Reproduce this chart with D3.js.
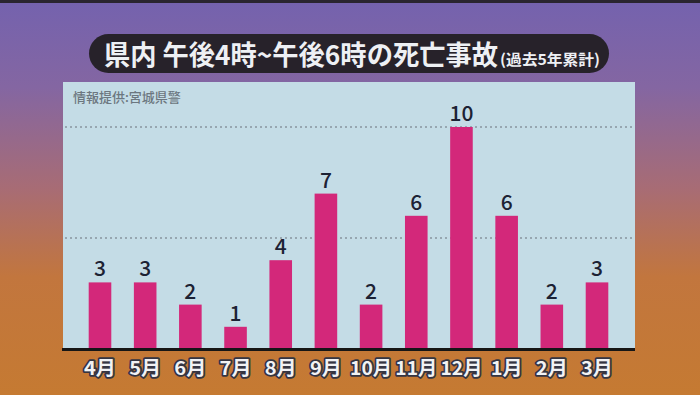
<!DOCTYPE html>
<html>
<head>
<meta charset="utf-8">
<script src="https://cdn.jsdelivr.net/npm/d3@7"></script>
<style>
  body { margin: 0; padding: 0; overflow: hidden; }
  svg { display: block; }
</style>
</head>
<body>
<div id="my_dataviz"></div>
<script>
// data
var months = ["4月", "5月", "6月", "7月", "8月", "9月", "10月", "11月", "12月", "1月", "2月", "3月"];
var deaths = [3, 3, 2, 1, 4, 7, 2, 6, 10, 6, 2, 3];
var gridValues = [5, 10];

var W = 700, H = 395;
var font = "'Noto Sans CJK JP', 'Noto Sans', sans-serif";

var svg = d3.select("#my_dataviz")
  .append("svg")
    .attr("width", W)
    .attr("height", H);

// background gradient purple -> orange
var defs = svg.append("defs");
var grad = defs.append("linearGradient")
    .attr("id", "bg")
    .attr("x1", 0).attr("y1", 0).attr("x2", 0).attr("y2", 1);
[["0%", "#7462ae"], ["22%", "#8466a2"], ["48%", "#a86c74"], ["70%", "#c2763e"], ["100%", "#c57a32"]]
  .forEach(function(s) { grad.append("stop").attr("offset", s[0]).attr("stop-color", s[1]); });

svg.append("rect").attr("width", W).attr("height", H).attr("fill", "url(#bg)");
svg.append("rect").attr("width", W).attr("height", 3).attr("fill", "#2a2530");

// chart panel
var panel = {left: 63, right: 635, top: 82, bottom: 349};
svg.append("rect")
  .attr("x", panel.left).attr("y", panel.top)
  .attr("width", panel.right - panel.left)
  .attr("height", panel.bottom - panel.top)
  .attr("fill", "#c4dce6");

// scales
var x = d3.scaleBand()
  .domain(months)
  .range([77.4, 619.6])
  .paddingInner(0.5)
  .paddingOuter(0.25);

var y = d3.scaleLinear()
  .domain([0, 10])
  .range([panel.bottom, 127]);

// dotted gridlines
svg.append("g")
  .selectAll("line")
  .data(gridValues)
  .enter().append("line")
    .attr("x1", panel.left + 2).attr("x2", panel.right - 2)
    .attr("y1", function(d) { return y(d); })
    .attr("y2", function(d) { return y(d); })
    .attr("stroke", "#97a6b0")
    .attr("stroke-width", 2)
    .attr("stroke-dasharray", "2,3");

// source note
svg.append("text")
  .attr("x", 73).attr("y", 102)
  .attr("font-family", font)
  .attr("font-size", 13)
  .attr("font-weight", 500)
  .attr("fill", "#6c7780")
  .text("情報提供:宮城県警");

// bars
svg.append("g")
  .selectAll("rect")
  .data(deaths)
  .enter().append("rect")
    .attr("x", function(d, i) { return x(months[i]); })
    .attr("y", function(d) { return y(d); })
    .attr("width", x.bandwidth())
    .attr("height", function(d) { return y(0) - y(d); })
    .attr("fill", "#d3287a");

// value labels
svg.append("g")
  .selectAll("text")
  .data(deaths)
  .enter().append("text")
    .attr("x", function(d, i) { return x(months[i]) + x.bandwidth() / 2; })
    .attr("y", function(d) { return y(d) - 6; })
    .attr("text-anchor", "middle")
    .attr("font-family", font)
    .attr("font-size", 21)
    .attr("font-weight", 500)
    .attr("fill", "#1c2234")
    .text(function(d) { return d; });

// baseline
svg.append("line")
  .attr("x1", panel.left - 1).attr("x2", panel.right)
  .attr("y1", panel.bottom + 0.5).attr("y2", panel.bottom + 0.5)
  .attr("stroke", "#161616")
  .attr("stroke-width", 3);

// month labels (white with dark outline)
svg.append("g")
  .selectAll("text")
  .data(months)
  .enter().append("text")
    .attr("x", function(d) { return x(d) + x.bandwidth() / 2; })
    .attr("y", 375)
    .attr("text-anchor", "middle")
    .attr("font-family", font)
    .attr("font-size", 19)
    .attr("font-weight", 700)
    .attr("fill", "#f2f2f4")
    .attr("stroke", "#353542")
    .attr("stroke-width", 3.5)
    .attr("stroke-linejoin", "round")
    .attr("paint-order", "stroke")
    .attr("textLength", function(d) { return d.length > 2 ? 42 : 32; })
    .attr("lengthAdjust", "spacingAndGlyphs")
    .text(function(d) { return d; });

// title pill
svg.append("rect")
  .attr("x", 89).attr("y", 34)
  .attr("width", 520).attr("height", 39)
  .attr("rx", 19.5)
  .attr("fill", "#27222a");

var title = svg.append("text")
  .attr("y", 65)
  .attr("font-family", font)
  .attr("font-weight", 700)
  .attr("fill", "#eef0f4");
title.append("tspan")
  .attr("x", 104)
  .attr("font-size", 27)
  .attr("textLength", 394)
  .attr("lengthAdjust", "spacingAndGlyphs")
  .text("県内 午後4時~午後6時の死亡事故");
title.append("tspan")
  .attr("x", 500)
  .attr("font-size", 15)
  .attr("textLength", 100)
  .attr("lengthAdjust", "spacingAndGlyphs")
  .text("(過去5年累計)");
</script>
</body>
</html>
